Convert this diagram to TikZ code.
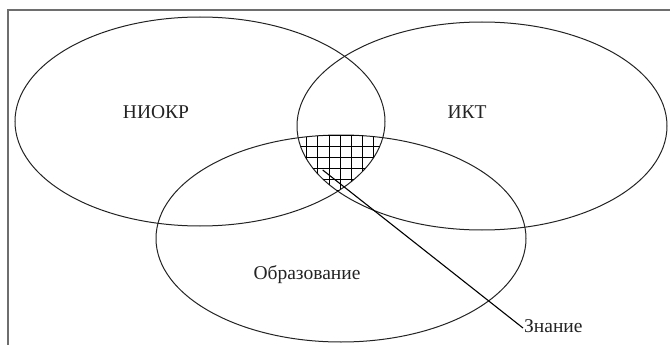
\documentclass[tikz,border=0pt]{standalone}
\usepackage{fontspec}
\setmainfont{Liberation Serif}
\usetikzlibrary{positioning}
\definecolor{framegray}{RGB}{110,110,110}
\definecolor{inkgray}{RGB}{35,35,35}

\begin{document}
\begin{tikzpicture}[x=1pt, y=-1pt,
    setline/.style={draw=inkgray, line width=1pt},
    hatchline/.style={draw=black, line width=1.1pt},
    setlabel/.style={font=\fontsize{19.5}{22}\selectfont, text=inkgray, inner sep=0pt},
    pointer/.style={draw=black, line width=1.1pt}
]
    \useasboundingbox (0,0) rectangle (670,345);
    % frame, open to the right and bottom
    \draw[framegray, line width=1.2pt] (8,345) -- (8,10) -- (670,10);

    % the three sets
    \draw[setline] (200,121.5) ellipse [x radius=185, y radius=104.5];
    \draw[setline] (482,126) ellipse [x radius=185, y radius=104];
    \draw[setline] (341,238.5) ellipse [x radius=185, y radius=103.5];

    % common part, cross-hatched
    \begin{scope}
        \clip (200,121.5) ellipse [x radius=185, y radius=104.5];
        \clip (482,126) ellipse [x radius=185, y radius=104];
        \clip (341,238.5) ellipse [x radius=185, y radius=103.5];
        \foreach \gx in {0,...,9}
            \draw[hatchline] (284.3+11.2*\gx,120) -- (284.3+11.2*\gx,200);
        \foreach \gy in {0,...,6}
            \draw[hatchline] (280,135+11.2*\gy) -- (400,135+11.2*\gy);
    \end{scope}

    \node[setlabel] (niokr) at (156,112) {НИОКР};
    \node[setlabel] (ikt) at (467,112) {ИКТ};
    \node[setlabel] (obraz) at (307,275) {Образование};
    \node[setlabel, anchor=west] (znanie) at (524,326) {Знание};

    \coordinate (know) at (322.7,170);
    \draw[pointer] (know) -- ([xshift=-1pt,yshift=-2pt]znanie.west);
\end{tikzpicture}
\end{document}
